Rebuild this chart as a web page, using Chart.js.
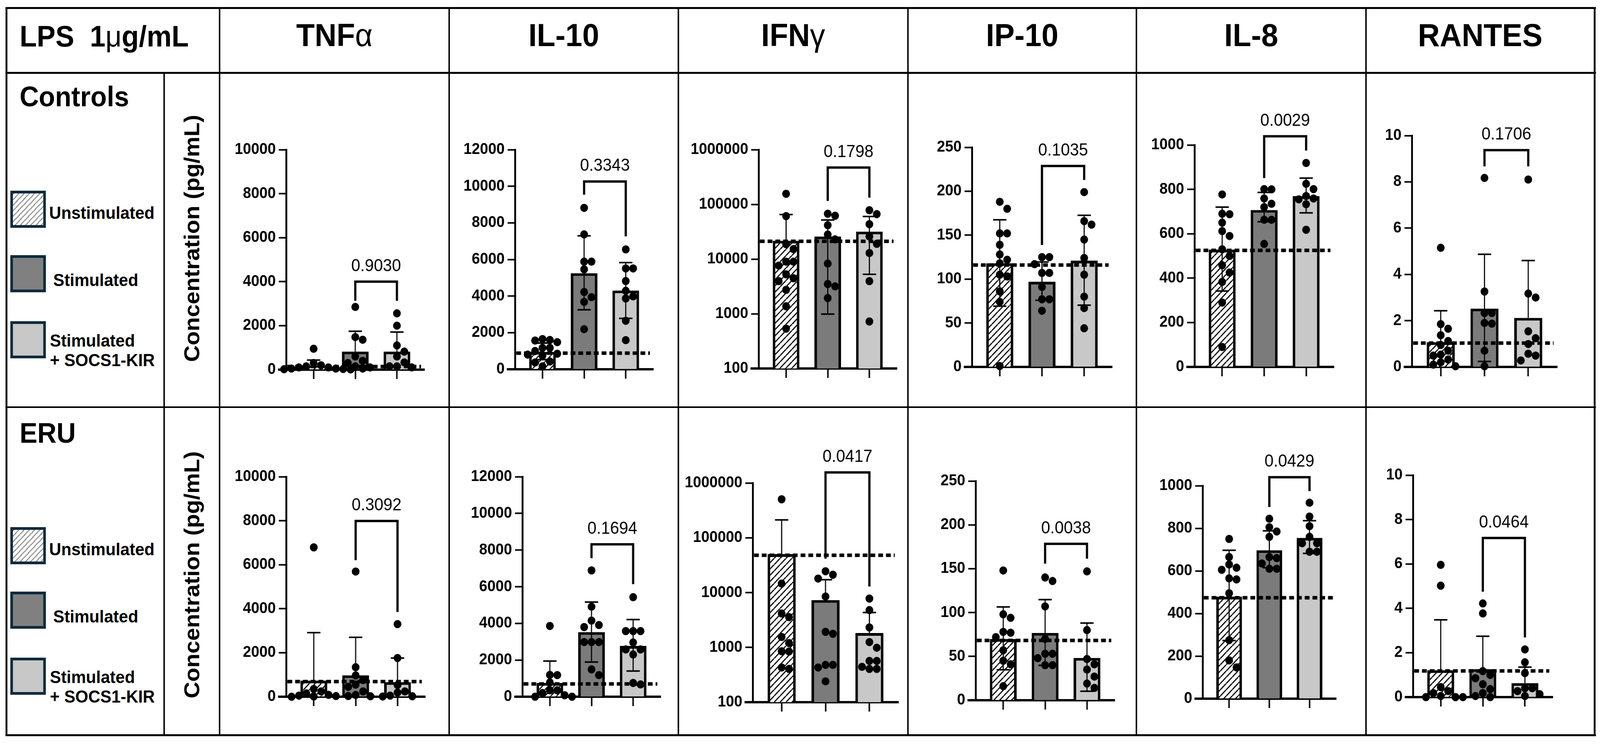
<!DOCTYPE html>
<html>
<head>
<meta charset="utf-8">
<script src="https://cdn.jsdelivr.net/npm/chart.js@4.4.1/dist/chart.umd.min.js"></script>
<style>
  html, body { margin: 0; padding: 0; background: #fff; overflow: hidden; }
  #wrap { position: relative; overflow: hidden; width: 4328px; height: 1904px; }
  #fig { position: absolute; left: 0; top: 0; width: 4328px; height: 1904px; background: #fff; overflow: hidden; transform-origin: 0 0;
         font-family: "Liberation Sans", Arial, sans-serif; color: #000; }
  .ln { position: absolute; background: #000; }
  .t { position: absolute; white-space: nowrap; font-weight: bold; line-height: 1; }
  .sw { position: absolute; box-sizing: border-box; border: 7px solid #0e2a3d; width: 96px; height: 95px; }
  canvas { position: absolute; }
</style>
</head>
<body>
<div id="wrap"><div id="fig"></div></div>
<script>
// categories
const cytokines = ['TNFα', 'IL-10', 'IFNγ', 'IP-10', 'IL-8', 'RANTES'];
const groups = ['Unstimulated', 'Stimulated', 'Stimulated + SOCS1-KIR'];
const rowNames = ['Controls', 'ERU'];

// y axes per cytokine
const yMin = [0, 0, 100, 0, 0, 0];
const yMax = [10000, 12000, 1000000, 250, 1000, 10];
const yStep = [2000, 2000, null, 50, 200, 2];
const yLog = [false, false, true, false, false, false];
const logTicks = [100, 1000, 10000, 100000, 1000000];

// Controls: bar means, SD whisker ends, dotted reference, bracket [top, left end, right end], p
const ctrlMean = [[180, 820, 820], [950, 5250, 4300], [21600, 25900, 31800], [118, 97, 121], [528, 707, 770], [1.07, 2.52, 2.12]];
const ctrlHi = [[436, 1744, 1711], [1430, 7290, 5830], [65200, 51900, 60100], [167.5, 119.4, 172.6], [720, 786, 851], [2.43, 4.87, 4.6]];
const ctrlLo = [[null, null, null], [530, 3250, 2780], [null, 986, 5260], [69.2, 75.8, 70.3], [342, 654, 694], [null, 0.235, null]];
const ctrlRef = [140, 880, 21100, 116, 525, 1.03];
const ctrlBracket = [[4000, 3130, 3130], [10260, 9540, 7260], [471000, 115600, 132800], [228.8, 138.8, 212.9], [1039, 851, 975], [9.37, 8.67, 8.67]];
const ctrlP = ['0.9030', '0.3343', '0.1798', '0.1035', '0.0029', '0.1706'];
const ctrlPts = [
  [[950, 300, 200, 150, 100, 100, 50, 50, 30, 20, 10], [2850, 1480, 1360, 600, 400, 300, 150, 100, 50], [2560, 2000, 1100, 820, 600, 330, 150, 150, 100]],
  [[1650, 1600, 1570, 1480, 1170, 1170, 1000, 850, 800, 740, 420, 370, 160], [8820, 7370, 5880, 5880, 5460, 4220, 3940, 3680, 2190], [6550, 5510, 5510, 4820, 4290, 3980, 3870, 2650, 1590]],
  [[156000, 61000, 18700, 15200, 8960, 8960, 7600, 5260, 4470, 3950, 2740, 1370, 535], [67400, 62000, 41600, 28100, 22900, 8260, 3500, 3170, 1940], [78100, 66400, 43400, 25900, 19000, 12900, 3950, 723]],
  [[188, 180, 152, 152, 139, 128, 122, 118, 105, 103, 86, 74, 1], [125, 125, 117, 107, 107, 91, 77, 77, 64], [199, 166, 162, 145, 124, 105, 80, 67, 44]],
  [[777, 690, 688, 650, 612, 590, 530, 500, 458, 425, 383, 290, 90], [801, 800, 759, 735, 720, 663, 663, 554], [919, 825, 801, 770, 759, 755, 733, 618]],
  [[5.15, 1.85, 1.65, 1.37, 1.12, 0.95, 0.7, 0.53, 0.49, 0.32, 0.2, 0.1, 0.03], [8.17, 3.26, 2.33, 2.33, 1.9, 1.87, 0.7, 0.03], [8.1, 3.17, 3.0, 1.54, 1.24, 0.99, 0.57, 0.49, 0.28]]
];

// ERU
const eruMean = [[733, 974, 660], [750, 3522, 2772], [50300, 7280, 1830], [69.8, 76.8, 48.2], [479, 697, 755], [1.21, 1.26, 0.63]];
const eruHi = [[2911, 2702, 1759], [1946, 5163, 4207], [212000, 17200, 4330], [106.4, 114.8, 88], [697, 788, 836], [3.48, 2.74, 1.35]];
const eruLo = [[null, null, null], [null, 1891, 1402], [null, null, null], [34.8, 39.8, 10.2], [273, 615, 682], [null, null, null]];
const eruRef = [690, 696, 47900, 68.2, 474, 1.18];
const eruBracket = [[7990, 6210, 3850], [8315, 7554, 6141], [1560000, 41500, 12900], [178.4, 155.7, 161.4], [1040, 900, 975], [7.17, 4.75, 2.69]];
const eruP = ['0.3092', '0.1694', '0.0417', '0.0038', '0.0429', '0.0464'];
const eruPts = [
  [[6790, 350, 240, 150, 84, 50, 30, 10, 0], [5690, 1340, 970, 760, 550, 450, 240, 80, 30, 20], [3300, 1760, 530, 240, 190, 50, 20, 10]],
  [[3860, 1190, 1180, 780, 350, 350, 200, 80, 0, 0], [6890, 4910, 4150, 3910, 3800, 2980, 2980, 2980, 1490, 1180], [5430, 3580, 3580, 3580, 2960, 2580, 2580, 2300, 750, 670]],
  [[504000, 14600, 4150, 3570, 1550, 1200, 850, 840, 430, 405], [24500, 21200, 18000, 8460, 1920, 1770, 480, 480, 430, 240], [7780, 4790, 2310, 1250, 985, 566, 566, 441, 405, 405]],
  [[148, 98, 94, 78, 77, 72, 57, 45, 41, 16], [140, 136, 107, 70, 53, 53, 48, 40, 40], [147, 80, 47, 41, 35, 27, 19, 14]],
  [[750, 665, 630, 615, 605, 565, 560, 495, 275, 180, 147], [845, 805, 785, 760, 665, 660, 635, 610, 610], [920, 855, 810, 760, 730, 730, 690, 690]],
  [[5.96, 5.02, 0.45, 0.27, 0.18, 0.05, 0, 0, 0], [4.22, 3.77, 1.17, 1.0, 0.85, 0.58, 0.36, 0.18, 0.05, 0], [2.15, 1.57, 1.08, 0.4, 0.4, 0.27, 0.13, 0.05]]
];

// layout (pixels): column edges, plot areas [left, top, right, bottom]
const colX = [594, 1215, 1835, 2456, 3074, 3695, 4313];
const areaCtrl = [[774, 383, 1148, 946], [1393, 383, 1767, 945], [2052, 383, 2426, 943], [2629, 377, 3008, 939], [3231, 371, 3608, 939], [3819, 347, 4212, 939]];
const areaEru = [[774, 1220, 1150, 1783], [1413, 1220, 1787, 1783], [2036, 1236, 2430, 1797], [2639, 1231, 3015, 1792], [3253, 1243, 3614, 1788], [3822, 1216, 4200, 1784]];
const X0 = -0.66, X1 = 2.66;

const rows = [
  { mean: ctrlMean, hi: ctrlHi, lo: ctrlLo, ref: ctrlRef, bracket: ctrlBracket, p: ctrlP, pts: ctrlPts, area: areaCtrl, top: 190, height: 848, dy: 0 },
  { mean: eruMean, hi: eruHi, lo: eruLo, ref: eruRef, bracket: eruBracket, p: eruP, pts: eruPts, area: areaEru, top: 1045, height: 832, dy: 861 }
];

const wrap = document.getElementById('wrap');
const fig = document.getElementById('fig');

// fit the 4328x1904 figure to the viewport actually given (css px may differ from device px)
const sx = window.innerWidth / 4328, sy = window.innerHeight / 1904;
if (isFinite(sx) && isFinite(sy) && sx > 0 && sy > 0) {
  wrap.style.width = window.innerWidth + 'px';
  wrap.style.height = window.innerHeight + 'px';
  fig.style.transform = 'scale(' + sx + ',' + sy + ')';
}

function el(cls, css, html) {
  const d = document.createElement('div');
  d.className = cls;
  Object.assign(d.style, css);
  if (html !== undefined) d.innerHTML = html;
  fig.appendChild(d);
  return d;
}

// table lines
el('ln', { left: '15px', top: '18px', width: '4302px', height: '5px' });
el('ln', { left: '15px', top: '1879px', width: '4302px', height: '5px' });
el('ln', { left: '15px', top: '18px', width: '5px', height: '1866px' });
el('ln', { left: '4311px', top: '18px', width: '5px', height: '1866px' });
el('ln', { left: '15px', top: '184px', width: '4302px', height: '5px' });
el('ln', { left: '15px', top: '1040px', width: '4302px', height: '4px' });
el('ln', { left: '442px', top: '186px', width: '4px', height: '1696px' });
colX.slice(0, 6).forEach(x => el('ln', { left: (x - 2) + 'px', top: '18px', width: '4px', height: '1866px' }));

// header
el('t', { left: '53px', top: '55px', fontSize: '76px' }, 'LPS&nbsp; 1<span style="font-weight:normal">μ</span>g/mL');
cytokines.forEach((name, c) => {
  const html = name.replace(/([αγ])/, '<span style="font-weight:normal">$1</span>');
  el('t', { left: colX[c] + 'px', width: (colX[c + 1] - colX[c]) + 'px', textAlign: 'center', top: '49px', fontSize: '82px' }, html);
});

// row labels, legends and y titles
const hatchCss = 'repeating-linear-gradient(135deg, #9a9a9a 0 3px, #fff 3px 10px)';
rows.forEach((r, ri) => {
  const dy = r.dy;
  el('t', { left: '53px', top: (211 + dy) + 'px', fontSize: '72px' }, rowNames[ri]);
  el('sw', { left: '28px', top: (488 + dy) + 'px', background: hatchCss });
  el('sw', { left: '28px', top: (653 + dy) + 'px', background: '#808080' });
  el('sw', { left: '28px', top: (822 + dy) + 'px', background: '#c8c8c8' });
  el('t', { left: '133px', top: (522 + dy) + 'px', fontSize: '45px' }, groups[0]);
  el('t', { left: '144px', top: (694 + dy) + 'px', fontSize: '45px' }, groups[1]);
  el('t', { left: '135px', top: (849 + dy) + 'px', fontSize: '45px' }, 'Stimulated');
  el('t', { left: '135px', top: (899 + dy) + 'px', fontSize: '45px' }, '+ SOCS1-KIR');
  el('t', { left: '519px', top: (610 + dy) + 'px', fontSize: '59px', width: '760px', textAlign: 'center',
            transform: 'translate(-50%, -50%) rotate(-90deg)' }, 'Concentration (pg/mL)');
});

// hatch pattern for unstimulated bars
function makeHatch(size, lw) {
  const t = document.createElement('canvas');
  t.width = t.height = size;
  const g = t.getContext('2d');
  g.fillStyle = '#fff';
  g.fillRect(0, 0, size, size);
  g.strokeStyle = '#000';
  g.lineWidth = lw;
  g.beginPath();
  for (let k = -1; k <= 1; k++) {
    g.moveTo(k * size, size);
    g.lineTo(k * size + size, 0);
  }
  g.stroke();
  return g.createPattern(t, 'repeat');
}
const hatch = makeHatch(16, 3);

function yToPx(v, c, T, B) {
  if (yLog[c]) {
    const a = Math.log10(yMin[c]), b = Math.log10(yMax[c]);
    return B - (Math.log10(Math.max(v, yMin[c])) - a) / (b - a) * (B - T);
  }
  return B - (v - yMin[c]) / (yMax[c] - yMin[c]) * (B - T);
}

// spread overlapping dots sideways (column scatter)
function swarm(vals, idx, c, area) {
  const [L, T, R, B] = area;
  const pxX = (R - L) / (X1 - X0);
  const step = 20, minD = 19;
  const placed = [];
  const out = new Array(vals.length);
  const order = vals.map((v, i) => i).sort((a, b) => vals[b] - vals[a]);
  for (const i of order) {
    const py = yToPx(vals[i], c, T, B);
    let off = 0;
    for (let k = 0; k < 30; k++) {
      const cand = k === 0 ? 0 : (k % 2 ? 1 : -1) * Math.ceil(k / 2) * step;
      if (placed.every(p => Math.hypot(p.x - cand, p.y - py) >= minD)) { off = cand; break; }
    }
    placed.push({ x: off, y: py });
    out[i] = { x: idx + off / pxX, y: vals[i] };
  }
  return out;
}

function marksPlugin(r, c) {
  return {
    id: 'marks',
    afterDatasetDraw(chart, args) {
      if (args.meta.type !== 'bar') return;
      const { ctx, scales: { x, y } } = chart;
      ctx.save();
      ctx.strokeStyle = '#000';
      r.mean[c].forEach((m, i) => {
        const px = x.getPixelForValue(i);
        const top = y.getPixelForValue(r.hi[c][i]);
        const lo = r.lo[c][i];
        const bot = y.getPixelForValue(lo === null ? m : lo);
        ctx.lineWidth = 3;
        ctx.beginPath(); ctx.moveTo(px, top); ctx.lineTo(px, bot); ctx.stroke();
        ctx.lineWidth = 4;
        ctx.beginPath(); ctx.moveTo(px - 18, top); ctx.lineTo(px + 18, top); ctx.stroke();
        if (lo !== null) { ctx.beginPath(); ctx.moveTo(px - 18, bot); ctx.lineTo(px + 18, bot); ctx.stroke(); }
      });
      ctx.restore();
    },
    afterDraw(chart) {
      const { ctx, chartArea, scales: { x, y } } = chart;
      ctx.save();
      // x axis line runs on a little past the y axis, as in the original
      ctx.strokeStyle = '#000';
      ctx.lineWidth = 6;
      ctx.beginPath();
      ctx.moveTo(chartArea.left - 22, chartArea.bottom);
      ctx.lineTo(chartArea.left, chartArea.bottom);
      ctx.stroke();

      const [bt, bl, br] = r.bracket[c];
      const x1 = x.getPixelForValue(1), x2 = x.getPixelForValue(2);
      const yt = y.getPixelForValue(bt);
      ctx.lineJoin = 'miter';
      ctx.beginPath();
      ctx.moveTo(x1, y.getPixelForValue(bl));
      ctx.lineTo(x1, yt);
      ctx.lineTo(x2, yt);
      ctx.lineTo(x2, y.getPixelForValue(br));
      ctx.stroke();
      ctx.fillStyle = '#000';
      ctx.font = '44px "Liberation Sans", Arial, sans-serif';
      ctx.textAlign = 'center';
      ctx.textBaseline = 'alphabetic';
      ctx.fillText(r.p[c], (x1 + x2) / 2, yt - 27);
      ctx.restore();
    }
  };
}

Chart.defaults.font.family = '"Liberation Sans", Arial, sans-serif';

rows.forEach(r => {
  cytokines.forEach((name, c) => {
    const [L, T, R, B] = r.area[c];
    const left = colX[c] + 3, width = colX[c + 1] - colX[c] - 6;
    const top = r.top, height = r.height;
    const XH = 40;
    const cv = document.createElement('canvas');
    Object.assign(cv.style, { left: left + 'px', top: top + 'px', width: width + 'px', height: height + 'px' });
    cv.width = width; cv.height = height;
    fig.appendChild(cv);

    const pts = [];
    r.pts[c].forEach((vals, i) => pts.push(...swarm(vals, i, c, r.area[c])));

    const yScale = {
      type: yLog[c] ? 'logarithmic' : 'linear',
      min: yMin[c], max: yMax[c],
      afterFit: s => { s.width = L - left; },
      ticks: { color: '#000', font: { size: 40, weight: 'bold' }, padding: 8, autoSkip: false,
               callback: v => String(v) },
      grid: { drawOnChartArea: false, drawTicks: true, tickLength: 20, tickWidth: 4, tickColor: '#000' },
      border: { display: true, color: '#000', width: 5 }
    };
    if (yLog[c]) yScale.afterBuildTicks = s => { s.ticks = logTicks.map(v => ({ value: v })); };
    else yScale.ticks.stepSize = yStep[c];

    new Chart(cv, {
      type: 'bar',
      data: {
        datasets: [
          { type: 'bar', data: r.mean[c].map((m, i) => ({ x: i, y: m })),
            backgroundColor: [hatch, '#7b7b7b', '#c8c8c8'], borderColor: '#000', borderWidth: 7,
            barPercentage: 0.64, categoryPercentage: 1, order: 3 },
          { type: 'line', data: [{ x: X0 + 0.03, y: r.ref[c] }, { x: X1 - 0.08, y: r.ref[c] }],
            borderColor: '#000', borderWidth: 9, borderDash: [13, 8], pointRadius: 0, fill: false, order: 2 },
          { type: 'scatter', data: pts, pointBackgroundColor: '#000', pointBorderWidth: 0,
            pointRadius: 10.5, clip: false, order: 1 }
        ]
      },
      options: {
        responsive: false, animation: false,
        layout: { padding: { left: 0, top: T - top, right: left + width - R, bottom: top + height - B - XH } },
        plugins: { legend: { display: false }, tooltip: { enabled: false } },
        scales: {
          x: {
            type: 'linear', min: X0, max: X1, offset: false,
            afterBuildTicks: s => { s.ticks = [0, 1, 2].map(v => ({ value: v })); },
            afterFit: s => { s.height = XH; },
            ticks: { display: false },
            grid: { offset: false, drawOnChartArea: false, drawTicks: true, tickLength: 24, tickWidth: 4, tickColor: '#000' },
            border: { display: true, color: '#000', width: 6 }
          },
          y: yScale
        }
      },
      plugins: [marksPlugin(r, c)]
    });
  });
});
</script>
</body>
</html>
